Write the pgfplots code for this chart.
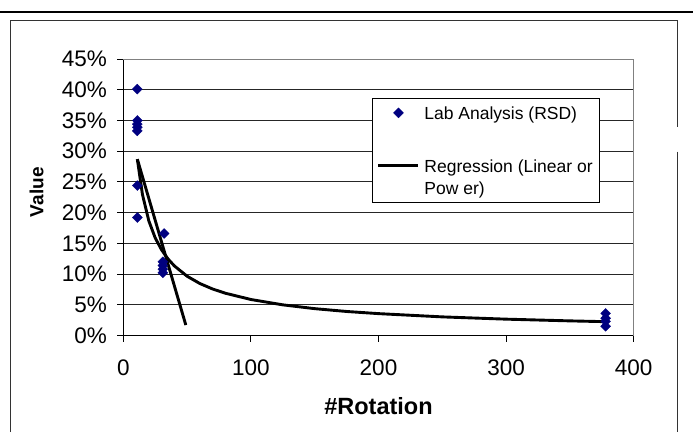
\documentclass[border=0pt]{standalone}
\usepackage{fontspec}
\setmainfont{Liberation Sans}
\usepackage{pgfplots}
\pgfplotsset{compat=1.18}
\definecolor{navyblue}{RGB}{0,0,128}

\begin{document}
\begin{tikzpicture}[x=1pt,y=1pt]
\path[use as bounding box] (0,0) rectangle (693,432);
\draw[line width=2.3pt] (0,420) -- (693,420);
\draw[line width=1pt, black!80] (10.8,0) -- (10.8,411) -- (677.3,411) -- (677.3,305.3);
\draw[line width=1pt, black!80] (677.3,280.3) -- (677.3,0);
\begin{axis}[
  at={(123.3pt,96.5pt)}, anchor=south west,
  scale only axis, width=510.4pt, height=276.5pt,
  xmin=0, xmax=400, ymin=0, ymax=45,
  xtick={0,100,200,300,400},
  ytick={0,5,...,45},
  axis x line*=bottom, axis y line*=left,
  axis line style={-, black, line width=1pt},
  tick pos=left,
  tick align=outside, major tick length=6pt,
  tick style={black, line width=1pt},
  ymajorgrids, grid style={black!85, line width=0.9pt},
  /pgf/number format/assume math mode=true,
  yticklabel={\pgfmathprintnumber{\tick}\%},
  ticklabel style={font=\fontsize{22.5}{26}\selectfont},
  yticklabel style={anchor=east, inner sep=0pt, xshift=-10.3pt},
  xticklabel style={anchor=north, inner sep=0pt, yshift=-18.5pt},
  xlabel={\textbf{\#Rotation}},
  ylabel={\textbf{Value}},
  xlabel style={font=\fontsize{23.5}{27}\selectfont, at={(axis description cs:0.5,0)}, anchor=center, yshift=-71pt},
  ylabel style={font=\fontsize{19}{22}\selectfont, at={(axis description cs:0,0.5)}, anchor=center, yshift=86.8pt, xshift=5pt},
  legend cell align=left,
  legend image code/.code={\draw[mark repeat=2,mark phase=2,#1] plot coordinates {(0pt,0pt) (20pt,0pt) (40pt,0pt)};},
  legend style={at={(rel axis cs:0.4873,0.859)}, anchor=north west, draw=black, line width=1pt, fill=white,
    font=\fontsize{17.5}{21}\selectfont, inner xsep=4.5pt, inner ysep=3.2pt, row sep=0pt, column sep=2pt,
    nodes={inner xsep=2.5pt, inner ysep=0pt, text height=17.45pt, text depth=4.85pt}},
  after end axis/.code={\draw[gray, line width=1pt] (rel axis cs:0,1) -- (rel axis cs:1,1) -- (rel axis cs:1,0);},
]
\addplot[only marks, mark=square*, mark size=3.5pt, mark options={rotate=45, fill=navyblue, draw=navyblue, line width=0.4pt}]
  coordinates {
  (11,40.1) (11,35.0) (11,34.4) (11,33.9) (11,33.3) (11,24.4) (11,19.2)
  (32,16.6) (31,12.0) (31,11.4) (31,10.8) (31,10.2)
  (378,3.6) (378,2.8) (378,2.3) (378,1.5)
  };
\addlegendentry{Lab Analysis (RSD)}
\addlegendimage{empty legend}
\addlegendentry[text height=30.7pt, text depth=0pt]{}
\addplot[black, line width=2.9pt] coordinates {(11,28.7) (49,1.7)};
\addlegendentry{Regression (Linear or}
\addlegendimage{empty legend}
\addlegendentry{Pow er)}
\addplot[black, line width=2.9pt, forget plot] coordinates {
  (11,28.70) (15,22.96) (20,18.66) (25,15.89) (30,13.94) (35,12.47) (40,11.33)
  (50,9.65) (60,8.46) (70,7.57) (80,6.88) (100,5.86) (125,4.99) (150,4.37)
  (175,3.91) (200,3.56) (250,3.03) (300,2.66) (350,2.38) (378,2.25)
  };
\end{axis}
\end{tikzpicture}
\end{document}
